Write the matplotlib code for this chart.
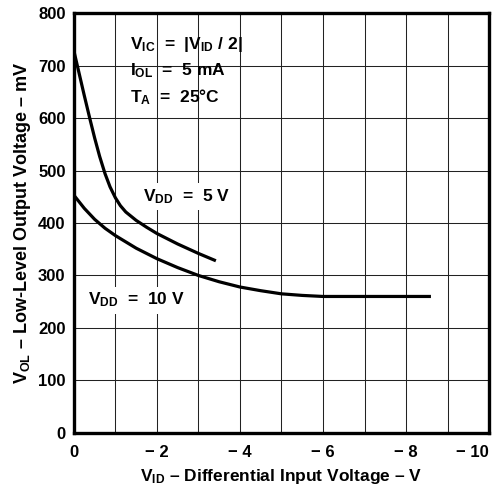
import matplotlib
matplotlib.use("Agg")
import matplotlib.pyplot as plt
from matplotlib.patches import Rectangle

# V_DD = 5 V curve
vid_5 = [0, -0.1, -0.25, -0.39, -0.5, -0.62, -0.75, -0.87, -1.0, -1.12, -1.25, -1.5, -1.75, -2.0, -2.5, -3.0, -3.42]
vol_5 = [728, 694, 643, 597, 562, 527, 494, 469, 448, 433, 421, 405, 392, 380, 360, 342, 328]

# V_DD = 10 V curve
vid_10 = [0, -0.25, -0.5, -0.75, -1.0, -1.5, -2.0, -2.5, -3.0, -3.5, -4.0, -4.5, -5.0, -5.5, -6.0, -7.0, -8.0, -8.6]
vol_10 = [453, 428, 407, 390, 376, 352, 332, 315, 300, 288, 278, 271, 265, 262, 260, 260, 260, 260]

x_ticks = [0, -2, -4, -6, -8, -10]
x_labels = ["0", "\u2212 2", "\u2212 4", "\u2212 6", "\u2212 8", "\u2212 10"]
y_ticks = [0, 100, 200, 300, 400, 500, 600, 700, 800]


def main():
    plt.rcParams["font.family"] = ["Liberation Sans", "DejaVu Sans"]
    plt.rcParams["font.weight"] = "bold"
    plt.rcParams["mathtext.fontset"] = "custom"
    plt.rcParams["mathtext.rm"] = "Liberation Sans:bold"
    plt.rcParams["mathtext.it"] = "Liberation Sans:bold"
    plt.rcParams["mathtext.bf"] = "Liberation Sans:bold"
    plt.rcParams["mathtext.default"] = "rm"

    fig = plt.figure(figsize=(4.96, 4.88), dpi=100)
    ax = fig.add_axes([0.149, 0.113, 0.837, 0.860])

    ax.plot(vid_5, vol_5, color="black", lw=2.3, zorder=3, solid_capstyle="butt")
    ax.plot(vid_10, vol_10, color="black", lw=2.3, zorder=3, solid_capstyle="butt")

    ax.set_xlim(0, -10)
    ax.set_ylim(0, 800)
    ax.set_xticks(x_ticks)
    ax.set_xticklabels(x_labels)
    ax.set_xticks([-1, -3, -5, -7, -9], minor=True)
    ax.set_yticks(y_ticks)
    ax.grid(True, which="both", color="#222222", lw=0.75, zorder=0)
    ax.tick_params(which="both", length=0, labelsize=12)
    ax.tick_params(axis="x", pad=9)
    ax.tick_params(axis="y", pad=6)
    for lbl in ax.get_xticklabels() + ax.get_yticklabels():
        lbl.set_fontweight("bold")
    ax.get_xticklabels()[-1].set_horizontalalignment("right")
    for s in ax.spines.values():
        s.set_linewidth(2.4)

    ax.set_xlabel("V$_{ID}$ \u2013 Differential Input Voltage \u2013 V",
                  fontsize=12.5, fontweight="bold", labelpad=5)
    ax.set_ylabel("V$_{OL}$ \u2013 Low-Level Output Voltage \u2013 mV",
                  fontsize=13, fontweight="bold", labelpad=4)

    # blank area behind the condition text
    ax.add_patch(Rectangle((-1.12, 606), -3.4, 194, facecolor="white",
                           edgecolor="none", zorder=1))

    box = dict(facecolor="white", edgecolor="none", pad=3)
    ax.text(-1.35, 740, "V$_{IC}$  =  |V$_{ID}$ / 2|", fontsize=12.5, fontweight="bold",
            va="center", zorder=4)
    ax.text(-1.35, 690, "I$_{OL}$  =  5 mA", fontsize=12.5, fontweight="bold",
            va="center", zorder=4)
    ax.text(-1.35, 640, "T$_{A}$  =  25°C", fontsize=12.5, fontweight="bold",
            va="center", zorder=4)
    ax.text(-1.66, 450, "V$_{DD}$  =  5 V", fontsize=12.5, fontweight="bold",
            va="center", bbox=box, zorder=4)
    ax.text(-0.34, 253, "V$_{DD}$  =  10 V", fontsize=12.5, fontweight="bold",
            va="center", bbox=box, zorder=4)

    fig.savefig("out.png", dpi=100)


if __name__ == "__main__":
    main()
